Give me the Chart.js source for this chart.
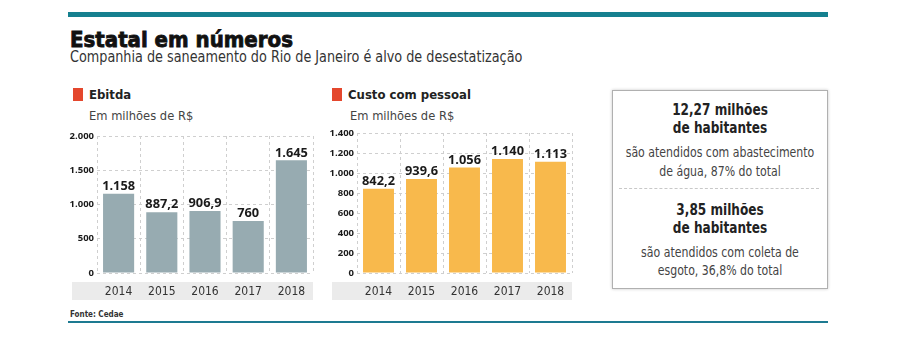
<!DOCTYPE html>
<html lang="pt-BR">
<head>
<meta charset="utf-8">
<title>Estatal em números</title>
<script src="https://cdn.jsdelivr.net/npm/chart.js@4"></script>
<style>
  html, body { margin: 0; padding: 0; background: #fff; }
  body { width: 900px; height: 338px; position: relative; overflow: hidden;
         font-family: "DejaVu Sans Condensed", "Liberation Sans Narrow", Roboto, sans-serif; color: #222; }
  .abs { position: absolute; white-space: nowrap; }
  .rule-top { left: 68px; top: 12px; width: 760px; height: 5px; background: #15808f; }
  .rule-bottom { left: 68px; top: 321px; width: 760px; height: 2px; background: #1d7a91; }
  .title { left: 70px; top: 26px; line-height: 28px; font-size: 22px; font-weight: bold; color: #111;
           -webkit-text-stroke: 0.8px #111; letter-spacing: 0; }
  .subtitle { left: 70px; top: 47px; line-height: 20px; font-size: 16px; color: #333;
              transform: scaleX(0.89); transform-origin: left center; }
  .marker { width: 10px; height: 13px; background: #e4472d; }
  .head { font-size: 13px; font-weight: bold; line-height: 20px; color: #222; }
  .unit { font-size: 12.8px; line-height: 20px; color: #444; }
  .source { left: 70px; top: 308px; font-size: 8px; line-height: 13px; font-weight: bold; color: #333; }
  canvas { position: absolute; }
  .box { left: 612px; top: 90px; width: 216px; height: 199px; box-sizing: border-box;
         border: 1px solid #b0b0b0; box-shadow: 0 0 3px rgba(0,0,0,0.22); }
  .box div { position: absolute; left: -30px; width: calc(100% + 60px); text-align: center; line-height: 20px; }
  .box .big { font-size: 16px; font-weight: bold; color: #222; transform: scaleX(0.84); }
  .box .small { font-size: 14.5px; color: #444; transform: scaleX(0.84); }
  .box .sep { left: 6px; width: 200px; top: 97px; height: 0; border-top: 1px dashed #c8c8c8; }
</style>
</head>
<body>
<div class="abs rule-top"></div>
<div class="abs title">Estatal em números</div>
<div class="abs subtitle">Companhia de saneamento do Rio de Janeiro é alvo de desestatização</div>

<div class="abs marker" style="left:73px; top:88px;"></div>
<div class="abs head" style="left:89px; top:85px;">Ebitda</div>
<div class="abs unit" style="left:89px; top:106px;">Em milhões de R$</div>

<div class="abs marker" style="left:332px; top:88px;"></div>
<div class="abs head" style="left:348px; top:85px;">Custo com pessoal</div>
<div class="abs unit" style="left:350px; top:106px;">Em milhões de R$</div>

<canvas id="ebitda" width="256" height="180" style="left:62px; top:126px;"></canvas>
<canvas id="custo" width="256" height="183" style="left:322px; top:123px;"></canvas>

<div class="abs box">
  <div class="big" style="top:9px;">12,27 milhões</div>
  <div class="big" style="top:27px;">de habitantes</div>
  <div class="small" style="top:51px;">são atendidos com abastecimento</div>
  <div class="small" style="top:70px;">de água, 87% do total</div>
  <div class="sep"></div>
  <div class="big" style="top:109px;">3,85 milhões</div>
  <div class="big" style="top:127px;">de habitantes</div>
  <div class="small" style="top:151px;">são atendidos com coleta de</div>
  <div class="small" style="top:169px;">esgoto, 36,8% do total</div>
</div>

<div class="abs source">Fonte: Cedae</div>
<div class="abs rule-bottom"></div>

<script>
const years = ["2014", "2015", "2016", "2017", "2018"];
const ebitda = [1158, 887.2, 906.9, 760, 1645];
const custoPessoal = [842.2, 939.6, 1056, 1140, 1113];
const ebitdaTicks = [0, 500, 1000, 1500, 2000];
const custoTicks = [0, 200, 400, 600, 800, 1000, 1200, 1400];

const NARROW = '"DejaVu Sans Condensed", "Liberation Sans Narrow", Roboto, sans-serif';
const GRID = "#cfcfcf";

// 1158 -> "1.158", 887.2 -> "887,2"
function fmtBR(v) {
  const [int, dec] = String(v).split(".");
  const grouped = int.replace(/\B(?=(\d{3})+(?!\d))/g, ".");
  return dec ? grouped + "," + dec : grouped;
}

// grey band behind the year labels
const yearStrip = {
  id: "yearStrip",
  beforeDraw(chart, args, opts) {
    const { ctx, chartArea } = chart;
    ctx.save();
    ctx.fillStyle = "#ebebeb";
    ctx.fillRect(opts.left, chartArea.bottom + 9, chartArea.right - opts.left, 18);
    ctx.restore();
  }
};

// value written above each bar
const barValues = {
  id: "barValues",
  afterDatasetsDraw(chart) {
    const { ctx } = chart;
    const meta = chart.getDatasetMeta(0);
    const values = chart.data.datasets[0].data;
    ctx.save();
    ctx.font = 'bold 12.8px "Open Sans", sans-serif';
    ctx.fillStyle = "#1a1a1a";
    ctx.textAlign = "center";
    ctx.textBaseline = "bottom";
    meta.data.forEach((bar, i) => {
      ctx.fillText(fmtBR(values[i]), bar.x, bar.y - 1);
    });
    ctx.restore();
  }
};

function makeChart(id, values, ticks, color, padTop, padRight) {
  const canvas = document.getElementById(id);
  const tickSet = new Set(ticks);
  return new Chart(canvas.getContext("2d"), {
    type: "bar",
    data: {
      labels: years,
      datasets: [{
        data: values,
        backgroundColor: color,
        barPercentage: 0.72,
        categoryPercentage: 1
      }]
    },
    options: {
      responsive: false,
      animation: false,
      events: [],
      layout: { padding: { top: padTop, right: padRight, left: 0, bottom: 0 } },
      plugins: {
        legend: { display: false },
        tooltip: { enabled: false },
        yearStrip: { left: 10 }
      },
      scales: {
        x: {
          grid: { color: GRID, drawTicks: false, offset: true },
          border: { display: false, dash: [3, 3] },
          ticks: {
            color: "#333",
            padding: 12,
            font: { family: NARROW, size: 12 }
          },
          afterFit(scale) { scale.height = 33; }
        },
        y: {
          min: ticks[0],
          max: ticks[ticks.length - 1],
          afterBuildTicks(scale) { scale.ticks = ticks.map(v => ({ value: v })); },
          grid: { color: GRID, drawTicks: false },
          border: { display: false, dash: [3, 3] },
          ticks: {
            color: "#1a1a1a",
            padding: 3,
            font: { family: '"Open Sans", sans-serif', size: 9.5, weight: "bold" },
            callback: v => tickSet.has(v) ? fmtBR(v) : ""
          },
          afterFit(scale) { scale.width = 35; }
        }
      }
    },
    plugins: [yearStrip, barValues]
  });
}

makeChart("ebitda", ebitda, ebitdaTicks, "#97abb1", 10, 5);
makeChart("custo", custoPessoal, custoTicks, "#f8b94c", 10, 6);
</script>
</body>
</html>
